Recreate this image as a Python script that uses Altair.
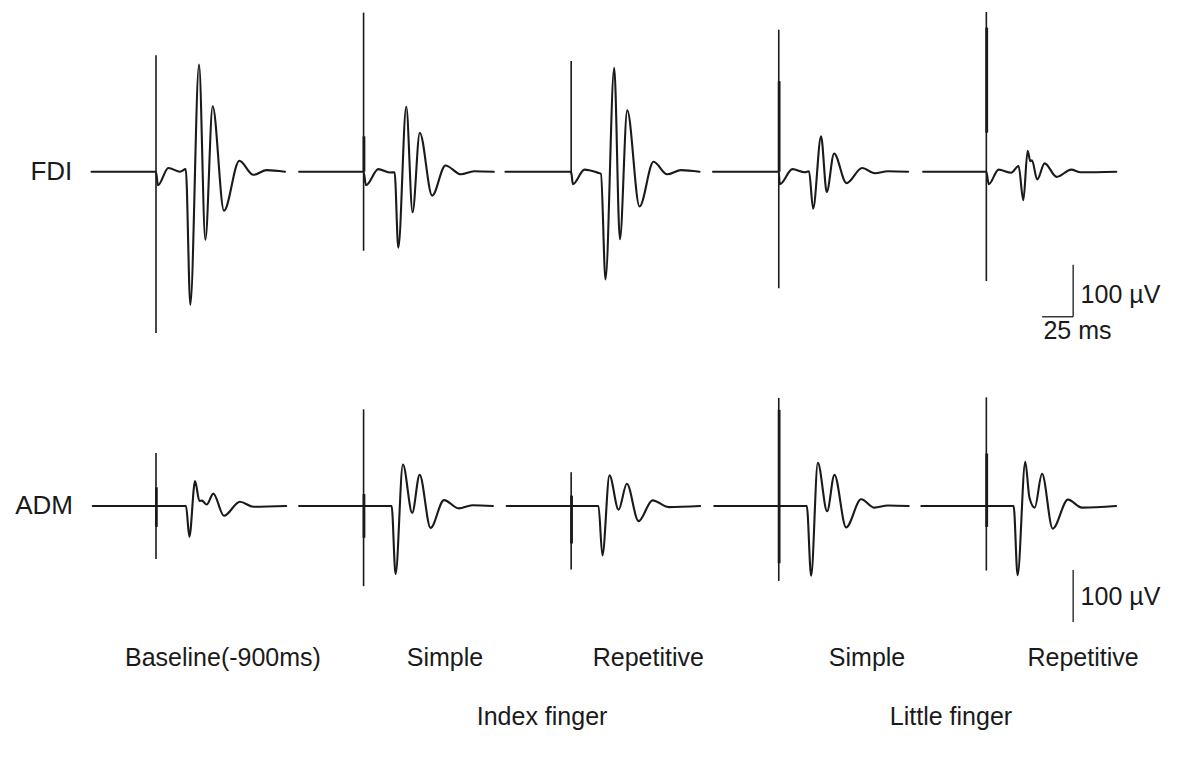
import altair as alt
import pandas as pd

# ---- layout constants (ms between panel stimulus marks, µV between rows) ----
PANEL_MS = 167.4
ROW_UV = 643.0

# ---- FDI traces: time (ms from stimulus) and amplitude (µV) of key points ----
fdi_t = [
    [-52, 0, 1.5, 10, 19.5, 24, 27.7, 34.7, 39.8, 45.7, 54.8, 67.2, 78.5, 89.3, 104],
    [-52, 0, 1.9, 11.9, 21, 25, 28, 34.4, 39.5, 45.3, 55.3, 66, 78.5, 89, 105],
    [-53, 0, 1.3, 10.7, 21.5, 24, 27.7, 34.7, 39.3, 45.2, 55.1, 66.4, 77.4, 88.6, 103.5],
    [-53, 0, 0.8, 11, 21, 24.4, 27.7, 34.1, 38.7, 44.6, 54.6, 67.2, 77.4, 88, 104.3],
    [-51, 0, 1.9, 9.9, 20, 26, 29.8, 33.3, 35.5, 36.8, 41, 47, 56.7, 68.5, 76, 104.8],
]
fdi_v = [
    [0, 0, -26, 7, 0, 5, -256, 206, -131, 126, -75, 21, -6, 3, 0],
    [0, 0, -26, 5, -1.5, -1, -146, 125, -78, 75, -46, 12, -5, 1, 0],
    [0, 0, -24, 4, -2, -4, -207, 200, -130, 118, -67, 19, -5, 3, 0],
    [0, 0, -24, 5, -1, 1, -71, 68, -39, 35, -22, 7, -3, 1, 0],
    [0, 0, -24, 4, -2, 11, -55, 40, 20, 22, -15, 16, -10, 4, -1, 0],
]
fdi_stim_top = [224, 306, 213, 273, 307]
fdi_stim_bottom = [-310, -152, -5, -224, -210]
fdi_art_top = [0, 68, 0, 174, 277]
fdi_art_bottom = [0, 0, 0, 0, 75]

# ---- ADM traces ----
adm_t = [
    [-51, 0, 24.2, 26.9, 31.5, 35, 37, 40.9, 46.2, 54.8, 67.7, 78.5, 105],
    [-52, 0, 22.6, 25.8, 31.7, 39.2, 45.2, 54, 64.8, 76.9, 87.7, 104.3],
    [-52, 0, 22, 25.2, 30.9, 38.2, 44.9, 54.3, 65.6, 78.5, 104],
    [-52, 0, 22.6, 26.1, 31.5, 39, 44.9, 54.3, 66.4, 77.2, 88, 104.8],
    [-52.4, 0, 22, 25.2, 31.4, 34.7, 39, 44.9, 53.5, 65.8, 77.1, 104.6],
]
adm_v = [
    [0, 0, 0, -59, 48, 10, 10.5, 3, 24, -18.6, 8.3, -1.3, 0],
    [0, 0, 0, -131, 80, -13, 60, -42, 11.5, -4.5, 1.5, 0],
    [0, 0, 0, -95, 59, -7, 43, -29, 11, -2, 0],
    [0, 0, 0, -134, 83, -10, 60, -41, 13, -3, 1, 0],
    [0, 0, 0, -133, 85, 17, -3, 62, -43.5, 12.3, -3, 0],
]
adm_stim_top = [102, 186, 65, 208, 209]
adm_stim_bottom = [-102, -154, -122, -144, -124]
adm_art_top = [36, 23, 20, 185, 101]
adm_art_bottom = [-40, -61, -72, -110, -40]

conditions = ["Baseline(-900ms)", "Simple", "Repetitive", "Simple", "Repetitive"]
groups = ["Index finger", "Little finger"]
muscles = ["FDI", "ADM"]

# ---- build tables ----
trace_rows = []
stim_rows = []
art_rows = []
for r, (T, V, st, sb, at, ab) in enumerate([
    (fdi_t, fdi_v, fdi_stim_top, fdi_stim_bottom, fdi_art_top, fdi_art_bottom),
    (adm_t, adm_v, adm_stim_top, adm_stim_bottom, adm_art_top, adm_art_bottom),
]):
    for p in range(5):
        for i, (t, v) in enumerate(zip(T[p], V[p])):
            trace_rows.append({"trace": f"{r}-{p}", "i": i,
                               "X": p * PANEL_MS + t, "Y": v - r * ROW_UV})
        stim_rows.append({"X": p * PANEL_MS, "Y": st[p] - r * ROW_UV,
                          "Y2": sb[p] - r * ROW_UV})
        if at[p] != ab[p]:
            art_rows.append({"X": p * PANEL_MS + 0.3, "Y": at[p] - r * ROW_UV,
                             "Y2": ab[p] - r * ROW_UV})

traces = pd.DataFrame(trace_rows)
stims = pd.DataFrame(stim_rows)
arts = pd.DataFrame(art_rows)

# scale bars: 100 µV vertical and 25 ms horizontal
bar_x = 4 * PANEL_MS + 70
vbars = pd.DataFrame({"X": [bar_x, bar_x],
                      "Y": [-279, -223 - ROW_UV], "Y2": [-179, -123 - ROW_UV]})
hbar = pd.DataFrame({"X": [bar_x - 25], "X2": [bar_x], "Y": [-279]})

left_labels = pd.DataFrame({"X": [-67.5, -67.0], "Y": [0, -ROW_UV], "text": muscles})
bar_labels = pd.DataFrame({"X": [bar_x + 6, bar_x - 24, bar_x + 6],
                           "Y": [-237, -306, -818],
                           "text": ["100 µV", "25 ms", "100 µV"]})
cond_labels = pd.DataFrame({"X": [54, 233, 397, 573.4, 747.6],
                            "Y": [-935] * 5, "text": conditions})
group_labels = pd.DataFrame({"X": [311.3, 641.1], "Y": [-1049] * 2, "text": groups})

xs = alt.Scale(domain=[-119.35, 817.7], nice=False, zero=False)
ys = alt.Scale(domain=[-1112.1, 314.8], nice=False, zero=False)
INK = "#1a1a1a"
FONT = "Liberation Sans"

X = lambda f="X:Q": alt.X(f, scale=xs, axis=None)
Y = lambda f="Y:Q": alt.Y(f, scale=ys, axis=None)

lines = alt.Chart(traces).mark_line(interpolate="monotone", strokeWidth=2.1, color=INK,
                                    strokeJoin="round", strokeCap="round").encode(
    x=X(), y=Y(), detail="trace:N", order="i:Q")
stim = alt.Chart(stims).mark_rule(strokeWidth=1.6, color=INK).encode(
    x=X(), y=Y(), y2="Y2:Q")
art = alt.Chart(arts).mark_rule(strokeWidth=2.8, color=INK).encode(
    x=X(), y=Y(), y2="Y2:Q")
vb = alt.Chart(vbars).mark_rule(strokeWidth=1.3, color=INK).encode(
    x=X(), y=Y(), y2="Y2:Q")
hb = alt.Chart(hbar).mark_rule(strokeWidth=1.3, color=INK).encode(
    x=X(), x2="X2:Q", y=Y())

t_left = alt.Chart(left_labels).mark_text(align="right", baseline="middle", fontSize=26,
                                          font=FONT, color=INK).encode(x=X(), y=Y(), text="text:N")
t_bar = alt.Chart(bar_labels).mark_text(align="left", baseline="middle", fontSize=25,
                                        font=FONT, color=INK).encode(x=X(), y=Y(), text="text:N")
t_cond = alt.Chart(cond_labels).mark_text(align="center", baseline="middle", fontSize=25,
                                          font=FONT, color=INK).encode(x=X(), y=Y(), text="text:N")
t_grp = alt.Chart(group_labels).mark_text(align="center", baseline="middle", fontSize=25,
                                          font=FONT, color=INK).encode(x=X(), y=Y(), text="text:N")

chart = alt.layer(lines, stim, art, vb, hb, t_left, t_bar, t_cond, t_grp).properties(
    width=1162, height=742, autosize=alt.AutoSizeParams(type="none"), padding=0,
    background="white"
).configure_view(stroke=None)

chart.save("out.html", embed_options={"renderer": "svg", "actions": False})
